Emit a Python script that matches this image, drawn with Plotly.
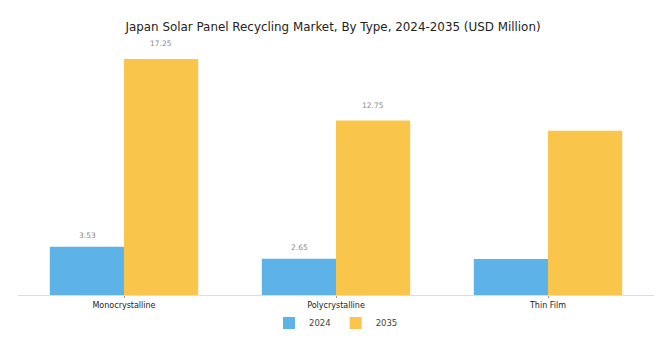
import plotly.graph_objects as go

categories = ["Monocrystalline", "Polycrystalline", "Thin Film"]
values_2024 = [3.53, 2.65, 2.63]
values_2035 = [17.25, 12.75, 12.0]
labels_2024 = ["3.53", "2.65", ""]
labels_2035 = ["17.25", "12.75", ""]

fig = go.Figure()
fig.add_trace(go.Bar(name="2024", x=categories, y=values_2024, marker_color="#5DB3E8",
                     marker_line_width=0, cliponaxis=False))
fig.add_trace(go.Bar(name="2035", x=categories, y=values_2035, marker_color="#F9C54B",
                     marker_line_width=0, cliponaxis=False))

# value labels above bars, offset within each group
for vals, labs, xshift, yshift in [(values_2024, labels_2024, -37, 5),
                                   (values_2035, labels_2035, 37, 9)]:
    for c, v, t in zip(categories, vals, labs):
        if t:
            fig.add_annotation(x=c, y=v, text=t, showarrow=False, xshift=xshift,
                               yshift=yshift, yanchor="bottom",
                               font=dict(size=7.5, color="#888888"))

fig.update_layout(
    width=666, height=349,
    margin=dict(l=18, r=12, t=40, b=54),
    barmode="group", bargap=0.30, bargroupgap=0,
    paper_bgcolor="white", plot_bgcolor="white",
    font=dict(family="DejaVu Sans", color="#333333"),
    title=dict(text="Japan Solar Panel Recycling Market, By Type, 2024-2035 (USD Million)",
               x=0.5, xanchor="center", y=1 - 27 / 349, yanchor="middle", yref="container",
               font=dict(size=11.9, color="#222222")),
    showlegend=True,
    legend=dict(orientation="h", x=0.5, xanchor="center", y=-0.11, yanchor="middle",
                bgcolor="rgba(0,0,0,0)", font=dict(size=8.5, color="#444444")),
    xaxis=dict(showline=True, linecolor="#dddddd", linewidth=1, ticks="outside",
               ticklen=2, tickcolor="#999999", tickfont=dict(size=8, color="#222222")),
    yaxis=dict(range=[0, 18.64], visible=False, showgrid=False),
)

fig.write_html("out.html")
